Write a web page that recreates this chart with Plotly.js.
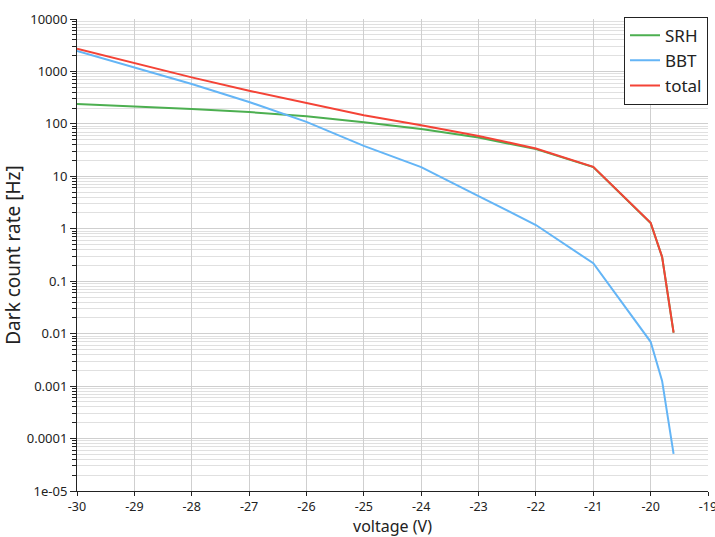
<!DOCTYPE html>
<html>
<head>
<meta charset="utf-8">
<script src="https://cdn.plot.ly/plotly-3.0.1.min.js"></script>
<style>html,body{margin:0;padding:0;background:#fff;}#chart{width:715px;height:537px;}</style>
</head>
<body>
<div id="chart"></div>
<script>
const voltage = [-30, -29, -28, -27, -26, -25, -24, -23, -22, -21, -20, -19.8, -19.6];
const srh     = [240, 218, 193, 168, 140, 107, 80, 55, 33, 15, 1.29, 0.29, 0.0105];
const bbt     = [2450, 1200, 575, 262, 109, 38, 15, 4.2, 1.18, 0.22, 0.0070, 0.00126, 0.000051];
const total   = [2700, 1420, 770, 430, 249, 146, 94, 59, 34, 15.2, 1.3, 0.29, 0.0105];
const yTickVals = [10000, 1000, 100, 10, 1, 0.1, 0.01, 0.001, 0.0001, 0.00001];
const yTickText = ["10000", "1000", "100", "10", "1", "0.1", "0.01", "0.001", "0.0001", "1e-05"];
const xTickVals = [-30, -29, -28, -27, -26, -25, -24, -23, -22, -21, -20, -19];
const xTickText = ["-30", "-29", "-28", "-27", "-26", "-25", "-24", "-23", "-22", "-21", "-20", "-19"];
const seriesNames = ["SRH", "BBT", "total"];
const colors = ["#4CAF50", "#64B5F6", "#F44336"];

const ys = [srh, bbt, total];
const traces = ys.map((y, i) => ({
  x: voltage, y: y, name: seriesNames[i], type: "scatter", mode: "lines",
  line: {color: colors[i], width: 2}
}));

const font = "Noto Sans, sans-serif";
const layout = {
  width: 715, height: 537,
  margin: {l: 77, r: 7, t: 19, b: 46},
  paper_bgcolor: "#fff", plot_bgcolor: "#fff",
  font: {family: font, color: "#222", size: 13},
  showlegend: true,
  legend: {
    x: 1, xanchor: "right", y: 1.005, yanchor: "top",
    bordercolor: "#222", borderwidth: 1, bgcolor: "#fff",
    font: {family: font, size: 17, color: "#222"},
    tracegroupgap: 0
  },
  xaxis: {
    range: [-30, -19],
    tickvals: xTickVals, ticktext: xTickText,
    ticklabeloverflow: "allow",
    ticks: "outside", ticklen: 4, tickcolor: "#222",
    showline: true, linecolor: "#222", linewidth: 1,
    showgrid: true, gridcolor: "#cfcfcf", gridwidth: 1,
    zeroline: false,
    tickfont: {family: font, size: 12.5},
    title: {text: "voltage (V)", font: {family: font, size: 16}}
  },
  yaxis: {
    type: "log",
    range: [-5, 4],
    tickvals: yTickVals, ticktext: yTickText,
    ticks: "outside", ticklen: 6, tickcolor: "#222",
    showline: true, linecolor: "#222", linewidth: 1,
    showgrid: true, gridcolor: "#cfcfcf", gridwidth: 1,
    zeroline: false,
    tickfont: {family: font, size: 13},
    minor: {tickmode: "linear", dtick: "D1", ticks: "outside", ticklen: 4, tickcolor: "#222", showgrid: true, gridcolor: "#e0e0e0", gridwidth: 1},
    title: {text: "Dark count rate [Hz]", font: {family: font, size: 19}, standoff: 4}
  }
};

Plotly.newPlot("chart", traces, layout, {displayModeBar: false, staticPlot: true});
</script>
</body>
</html>
